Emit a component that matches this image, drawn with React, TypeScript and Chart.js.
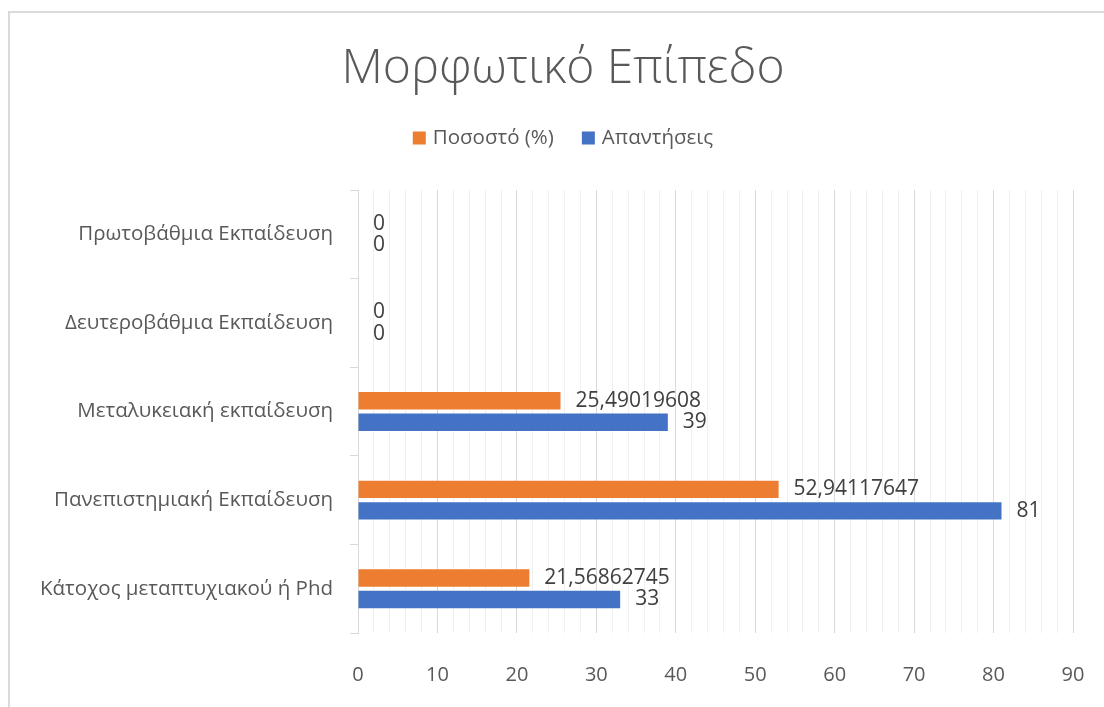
import React, { useEffect, useRef } from 'react';
import { Chart, registerables } from 'chart.js';

Chart.register(...registerables);

const chartTitle = 'Μορφωτικό Επίπεδο';
const categories = [
  'Πρωτοβάθμια Εκπαίδευση',
  'Δευτεροβάθμια Εκπαίδευση',
  'Μεταλυκειακή εκπαίδευση',
  'Πανεπιστημιακή Εκπαίδευση',
  'Κάτοχος μεταπτυχιακού ή Phd',
];
const seriesNames = ['Ποσοστό (%)', 'Απαντήσεις'];
const percentValues = [0, 0, 25.49019608, 52.94117647, 21.56862745];
const responseValues = [0, 0, 39, 81, 33];
const xMin = 0;
const xMax = 90;
const xMinorStep = 2;
const xMajorStep = 10;

const FONT = "'Open Sans', 'Noto Sans', 'DejaVu Sans', sans-serif";
const ORANGE = '#ED7D31';
const BLUE = '#4472C4';
const AXIS_TEXT = '#595959';
const LABEL_TEXT = '#404040';

// horizontal centre of the whole (Excel) chart frame, used for title & legend
const HEADER_CENTER_X = 563;

const formatValue = (v: number) => String(v).replace('.', ',');

const dataLabelsPlugin = {
  id: 'dataLabels',
  afterDatasetsDraw(chart: any) {
    const ctx = chart.ctx;
    ctx.save();
    ctx.font = `21px ${FONT}`;
    ctx.fillStyle = LABEL_TEXT;
    ctx.textAlign = 'left';
    ctx.textBaseline = 'middle';
    chart.data.datasets.forEach((ds: any, di: number) => {
      const meta = chart.getDatasetMeta(di);
      meta.data.forEach((el: any, i: number) => {
        ctx.fillText(formatValue(ds.data[i]), el.x + 15, el.y);
      });
    });
    ctx.restore();
  },
};

// Title and legend drawn from the chart data, with Excel-like spacing
const headerPlugin = {
  id: 'header',
  afterDraw(chart: any) {
    const ctx = chart.ctx;
    ctx.save();
    // title
    ctx.font = `300 48px ${FONT}`;
    ctx.fillStyle = AXIS_TEXT;
    ctx.textAlign = 'center';
    ctx.textBaseline = 'middle';
    ctx.fillText(chartTitle, HEADER_CENTER_X, 69);

    // legend
    const fontSize = 20.5;
    const box = 13;
    const gapText = 7;
    const gapItem = 28;
    const y = 138;
    ctx.font = `${fontSize}px ${FONT}`;
    ctx.textAlign = 'left';
    const items = chart.data.datasets.map((ds: any) => ({
      text: ds.label,
      color: ds.backgroundColor,
      w: ctx.measureText(ds.label).width,
    }));
    const total =
      items.reduce((s: number, it: any) => s + box + gapText + it.w, 0) +
      gapItem * (items.length - 1);
    let x = HEADER_CENTER_X - total / 2;
    items.forEach((it: any) => {
      ctx.fillStyle = it.color;
      ctx.fillRect(x, y - box / 2, box, box);
      x += box + gapText;
      ctx.fillStyle = AXIS_TEXT;
      ctx.fillText(it.text, x, y);
      x += it.w + gapItem;
    });
    ctx.restore();
  },
};

export default function App() {
  const canvasRef = useRef<HTMLCanvasElement | null>(null);

  useEffect(() => {
    if (!canvasRef.current) return;
    const chart = new Chart(canvasRef.current, {
      type: 'bar',
      data: {
        labels: categories,
        datasets: [
          {
            label: seriesNames[0],
            data: percentValues,
            backgroundColor: ORANGE,
            borderWidth: 0,
            categoryPercentage: 0.485,
            barPercentage: 0.81,
          },
          {
            label: seriesNames[1],
            data: responseValues,
            backgroundColor: BLUE,
            borderWidth: 0,
            categoryPercentage: 0.485,
            barPercentage: 0.81,
          },
        ],
      },
      options: {
        indexAxis: 'y',
        responsive: false,
        animation: false,
        layout: { padding: { left: 0, right: 31, top: 190, bottom: 20 } },
        plugins: {
          title: { display: false },
          legend: { display: false },
          tooltip: { enabled: false },
        },
        scales: {
          x: {
            type: 'linear',
            min: xMin,
            max: xMax,
            border: { display: false },
            grid: {
              drawTicks: false,
              color: (c: any) =>
                c.tick && c.tick.value % xMajorStep === 0 ? '#d9d9d9' : '#f0f0f0',
              lineWidth: 1,
            },
            ticks: {
              stepSize: xMinorStep,
              autoSkip: false,
              maxTicksLimit: 100,
              maxRotation: 0,
              minRotation: 0,
              padding: 30,
              color: AXIS_TEXT,
              font: { family: FONT, size: 20 },
              callback: (v: any) => (Number(v) % xMajorStep === 0 ? String(v) : ''),
            },
            afterFit: (scale: any) => {
              scale.height = 54;
              scale.paddingLeft = 0;
              scale.paddingRight = 0;
            },
          },
          y: {
            type: 'category',
            offset: true,
            border: { display: true, color: '#d9d9d9' },
            grid: {
              offset: true,
              drawOnChartArea: false,
              drawTicks: true,
              tickLength: 8,
              color: '#d9d9d9',
            },
            ticks: {
              padding: 17,
              color: AXIS_TEXT,
              font: { family: FONT, size: 20.5 },
            },
            afterFit: (scale: any) => {
              scale.width = 358;
              scale.paddingTop = 0;
              scale.paddingBottom = 0;
            },
          },
        },
      },
      plugins: [dataLabelsPlugin, headerPlugin],
    });
    return () => chart.destroy();
  }, []);

  return (
    <div
      style={{
        position: 'fixed',
        left: 0,
        top: 0,
        width: 1104,
        height: 707,
        background: '#ffffff',
        overflow: 'hidden',
      }}
    >
      <div
        style={{
          position: 'absolute',
          left: 8,
          top: 11,
          width: 1200,
          height: 800,
          borderLeft: '2px solid #d9d9d9',
          borderTop: '2px solid #d9d9d9',
        }}
      />
      <canvas
        ref={canvasRef}
        width={1104}
        height={707}
        style={{ position: 'absolute', left: 0, top: 0 }}
      />
    </div>
  );
}
